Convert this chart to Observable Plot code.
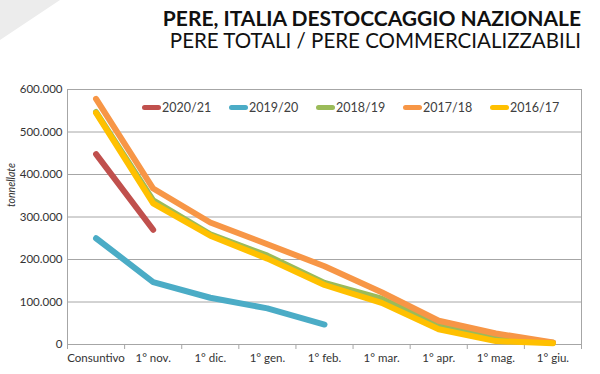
<!DOCTYPE html>
<html><head><meta charset="utf-8">
<script src="https://cdn.jsdelivr.net/npm/d3@7"></script>
<script src="https://cdn.jsdelivr.net/npm/@observablehq/plot@0.6"></script>
<style>
body{margin:0;background:#fff;font-family:Lato,"Open Sans",sans-serif;}
#wrap{position:relative;width:600px;height:374px;overflow:hidden;background:#fff;}
#deco{position:absolute;left:0;top:0;width:60px;height:40px;background:#ececec;clip-path:polygon(0 0,100% 0,0 100%);}
.tl{position:absolute;right:19px;text-align:right;color:#111;white-space:nowrap;line-height:1;}
#t1{top:7px;font-weight:700;font-size:21px;}
#t2{top:30px;font-weight:400;font-size:20.5px;}
#chart{position:absolute;left:0;top:60px;}
#legend{position:absolute;top:100px;left:0;width:600px;height:16px;font-size:12.5px;color:#404040;}
#legend .it{position:absolute;top:0;display:flex;align-items:center;}
#legend .sw{width:19px;height:5px;border-radius:3px;margin-right:1px;}
</style></head>
<body><div id="wrap"><div id="deco"></div>
<div class="tl" id="t1">PERE, ITALIA DESTOCCAGGIO NAZIONALE</div>
<div class="tl" id="t2">PERE TOTALI / PERE COMMERCIALIZZABILI</div>
<div id="chart"></div><div id="legend"></div></div>
<script>
const categories = ["Consuntivo","1° nov.","1° dic.","1° gen.","1° feb.","1° mar.","1° apr.","1° mag.","1° giu."];
const seriesNames = ["2020/21","2019/20","2018/19","2017/18","2016/17"];
const seriesColors = ["#C0504D","#4BACC6","#9BBB59","#F79646","#FFC000"];
const v2020_21 = [448000, 270000];
const v2019_20 = [250000, 147000, 110000, 85000, 47000];
const v2018_19 = [547000, 339000, 259000, 209000, 145000, 108000, 45000, 14000, 4000];
const v2017_18 = [578000, 367000, 287000, 236000, 184000, 123000, 56000, 26000, 5000];
const v2016_17 = [545000, 332000, 256000, 202000, 140000, 98000, 36000, 8000, 3000];
const yTicks = [0, 100000, 200000, 300000, 400000, 500000, 600000];
const yLabel = "tonnellate";

const allValues = [v2020_21, v2019_20, v2018_19, v2017_18, v2016_17];
const rows = [];
allValues.forEach((vals, k) => vals.forEach((v, i) => rows.push({s: seriesNames[k], i, v})));

const it = d3.formatLocale({decimal: ",", thousands: ".", grouping: [3], currency: ["", "€"]}).format(",");
const gray = "#a6a6a6";
const boundaries = d3.range(categories.length + 1).map(i => i - 0.5);

const chart = Plot.plot({
  width: 600, height: 314,
  marginTop: 29, marginBottom: 30, marginLeft: 67, marginRight: 19,
  style: {fontFamily: "Lato, 'Open Sans', sans-serif", fontSize: "11.5px", color: "#333", background: "transparent"},
  x: {type: "linear", domain: [-0.5, categories.length - 0.5]},
  y: {domain: [0, 600000]},
  color: {domain: seriesNames, range: seriesColors},
  marks: [
    Plot.gridY(yTicks.slice(1), {stroke: gray, strokeOpacity: 1, strokeWidth: 1}),
    Plot.ruleX([boundaries[0], boundaries[boundaries.length - 1]], {stroke: gray, strokeWidth: 1}),
    Plot.ruleY([0], {stroke: gray, strokeWidth: 1}),
    Plot.axisX(boundaries, {tickSize: 5, tickFormat: () => "", stroke: gray, label: null}),
    Plot.axisX(d3.range(categories.length), {tickSize: 0, tickPadding: 9, tickFormat: i => categories[i], label: null, fill: "#333"}),
    Plot.axisY(yTicks, {tickSize: 0, tickPadding: 5, tickFormat: it, label: null, fill: "#333"}),
    Plot.text([yLabel], {frameAnchor: "left", dx: -56, dy: -10, rotate: -90, fontStyle: "italic", fontSize: 10.5, fill: "#333"}),
    Plot.line(rows, {x: "i", y: "v", z: "s", stroke: "s", strokeWidth: 6, strokeLinecap: "round", strokeLinejoin: "round"})
  ]
});
document.getElementById("chart").appendChild(chart);

const legendX = [142, 229, 316, 403, 490];
const lg = document.getElementById("legend");
seriesNames.forEach((n, k) => {
  const d = document.createElement("div");
  d.className = "it"; d.style.left = legendX[k] + "px";
  d.innerHTML = `<span class="sw" style="background:${seriesColors[k]}"></span><span>${n}</span>`;
  lg.appendChild(d);
});
</script></body></html>
